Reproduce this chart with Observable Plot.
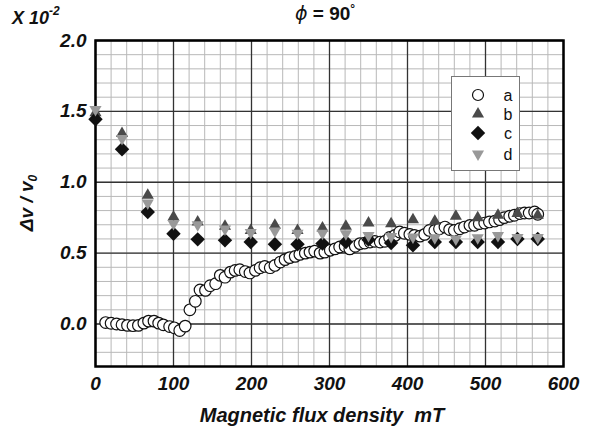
<!DOCTYPE html>
<html>
<head>
<meta charset="utf-8">
<script src="https://cdn.jsdelivr.net/npm/d3@7"></script>
<script src="https://cdn.jsdelivr.net/npm/@observablehq/plot@0.6"></script>
<style>
  html, body { margin: 0; padding: 0; background: white; }
  #wrap { position: relative; width: 591px; height: 439px; font-family: "Liberation Sans", Arial, sans-serif; }
  .ov { position: absolute; white-space: nowrap; color: #111; }
</style>
</head>
<body>
<div id="wrap"></div>
<script>
// ---- data ----
const fieldA = [13,20,27,34,41,48,55,62,68,75,81,87,95,101,108,115,121,128,134,141,147,154,160,166,173,179,185,192,198,205,211,217,224,230,237,243,249,256,262,269,275,281,288,294,301,307,313,320,326,333,339,345,352,358,365,371,377,384,390,396,403,409,416,422,428,435,441,448,454,460,467,473,480,486,492,499,505,512,518,524,531,537,544,550,556,563,567];
const seriesA = [0.01,0.005,0.0,-0.005,-0.01,-0.012,-0.01,0.006,0.02,0.02,0.006,-0.006,-0.018,-0.027,-0.046,-0.015,0.10,0.16,0.24,0.237,0.27,0.284,0.343,0.33,0.366,0.378,0.383,0.37,0.36,0.378,0.397,0.406,0.397,0.413,0.437,0.454,0.468,0.477,0.491,0.50,0.507,0.514,0.50,0.507,0.52,0.53,0.543,0.548,0.53,0.548,0.567,0.571,0.578,0.583,0.578,0.583,0.61,0.625,0.649,0.64,0.632,0.625,0.62,0.632,0.66,0.66,0.672,0.684,0.666,0.66,0.672,0.684,0.696,0.696,0.708,0.712,0.72,0.726,0.736,0.75,0.76,0.767,0.779,0.783,0.783,0.79,0.774];
const fieldBCD = [0,34,67,100,131,166,199,230,259,291,321,350,379,407,435,462,490,516,541,567];
const seriesB = [1.49,1.344,0.908,0.755,0.72,0.69,0.66,0.696,0.66,0.677,0.69,0.712,0.708,0.736,0.724,0.76,0.75,0.767,0.779,0.767];
const seriesC = [1.445,1.233,0.79,0.637,0.597,0.59,0.578,0.562,0.562,0.567,0.578,0.595,0.571,0.555,0.578,0.578,0.578,0.578,0.60,0.60];
const seriesD = [1.514,1.309,0.854,0.708,0.70,0.67,0.645,0.656,0.64,0.64,0.637,0.625,0.618,0.613,0.609,0.60,0.609,0.625,0.61,0.61];
const xTicks = [0,100,200,300,400,500,600];
const yTicks = [0.0,0.5,1.0,1.5,2.0];
const xMinor = d3.range(20, 600, 20);
const yMinor = d3.range(-0.2, 2.0, 0.1).map(v => Math.round(v * 10) / 10);
const legendLabels = ["a","b","c","d"];

const A = fieldA.map((x, i) => ({x, v: seriesA[i]}));
const B = fieldBCD.map((x, i) => ({x, v: seriesB[i]}));
const C = fieldBCD.map((x, i) => ({x, v: seriesC[i]}));
const D = fieldBCD.map((x, i) => ({x, v: seriesD[i]}));

const colB = "#4a4a4a", colC = "#111", colD = "#999";
const rCirc = 5.8, rTri = 4.5, rDia = 6.5;
const tickFont = {fontSize: 19, fontWeight: "bold", fontStyle: "italic", fill: "#111"};

const chart = Plot.plot({
  width: 591, height: 439,
  marginTop: 40, marginRight: 28, marginBottom: 73, marginLeft: 95,
  x: {domain: [0, 600]},
  y: {domain: [-0.3, 2.0]},
  style: {fontFamily: "'Liberation Sans', Arial, sans-serif", background: "white"},
  marks: [
    Plot.ruleX(xMinor, {stroke: "#b8b8b8", strokeWidth: 1}),
    Plot.ruleY(yMinor, {stroke: "#b8b8b8", strokeWidth: 1}),
    Plot.ruleX(xTicks, {stroke: "#333", strokeWidth: 1.3}),
    Plot.ruleY(yTicks, {stroke: "#333", strokeWidth: 1.3}),
    Plot.frame({stroke: "#000", strokeWidth: 2.5}),
    Plot.axisX(xTicks, {tickSize: 0, tickPadding: 10, label: null, ...tickFont}),
    Plot.axisY(yTicks, {tickSize: 0, tickPadding: 9, label: null, tickFormat: d3.format(".1f"), ...tickFont}),
    Plot.dot(A, {x: "x", y: "v", r: rCirc, symbol: "circle", fill: "white", stroke: "#111", strokeWidth: 1.2}),
    Plot.dot(B, {x: "x", y: "v", r: rTri, symbol: "triangle", fill: colB, stroke: "none"}),
    Plot.dot(C, {x: "x", y: "v", r: rDia, symbol: "diamond2", fill: colC, stroke: "none"}),
    Plot.dot(D, {x: "x", y: "v", r: rTri, symbol: "triangle", rotate: 180, fill: colD, stroke: "none"})
  ]
});

const wrap = document.getElementById("wrap");
wrap.appendChild(chart);

function ov(html, css) {
  const d = document.createElement("div");
  d.className = "ov";
  d.innerHTML = html;
  Object.assign(d.style, css);
  wrap.appendChild(d);
  return d;
}
ov("X 10<sup style='font-size:12px;position:relative;top:-2px'>-2</sup>", {left: "12px", top: "6px", fontSize: "18px", fontWeight: "bold", fontStyle: "italic"});
ov("<span style='font-style:italic;font-weight:normal;font-family:\"DejaVu Sans\"'>ϕ</span> = 90<sup style='font-size:12px'>°</sup>", {left: "295px", top: "2px", fontSize: "19px", fontWeight: "bold"});
ov("Magnetic flux density&nbsp; mT", {left: "322px", top: "404px", transform: "translateX(-50%)", fontSize: "20px", fontWeight: "bold", fontStyle: "italic"});
ov("Δv / v<sub style='font-size:12px'>0</sub>", {left: "28px", top: "203px", transform: "translate(-50%,-50%) rotate(-90deg)", fontSize: "19px", fontWeight: "bold", fontStyle: "italic"});

// legend
const leg = document.createElement("div");
Object.assign(leg.style, {position: "absolute", left: "451px", top: "76px", width: "67px", height: "93px", border: "1px solid #777", background: "white"});
const ns = "http://www.w3.org/2000/svg";
const lsvg = document.createElementNS(ns, "svg");
lsvg.setAttribute("width", 67); lsvg.setAttribute("height", 93);
const legSym = [
  {s: d3.symbolCircle, r: 5.5, fill: "white", stroke: "#111", rot: 0},
  {s: d3.symbolTriangle, r: rTri, fill: colB, stroke: "none", rot: 0},
  {s: d3.symbolDiamond2, r: rDia, fill: colC, stroke: "none", rot: 0},
  {s: d3.symbolTriangle, r: rTri, fill: colD, stroke: "none", rot: 180}
];
const rowY = [18, 37, 56, 77];
legendLabels.forEach((lab, i) => {
  const p = document.createElementNS(ns, "path");
  const sy = legSym[i];
  p.setAttribute("d", d3.symbol(sy.s, Math.PI * sy.r * sy.r)());
  p.setAttribute("transform", `translate(26,${rowY[i]}) rotate(${sy.rot})`);
  p.setAttribute("fill", sy.fill);
  p.setAttribute("stroke", sy.stroke);
  p.setAttribute("stroke-width", 1.2);
  lsvg.appendChild(p);
  const t = document.createElementNS(ns, "text");
  t.setAttribute("x", 56); t.setAttribute("y", rowY[i]);
  t.setAttribute("dy", "0.35em");
  t.setAttribute("text-anchor", "middle");
  t.setAttribute("font-size", 16);
  t.setAttribute("font-family", "'Liberation Sans', Arial, sans-serif");
  t.setAttribute("fill", "#111");
  t.textContent = lab;
  lsvg.appendChild(t);
});
leg.appendChild(lsvg);
wrap.appendChild(leg);
</script>
</body>
</html>
